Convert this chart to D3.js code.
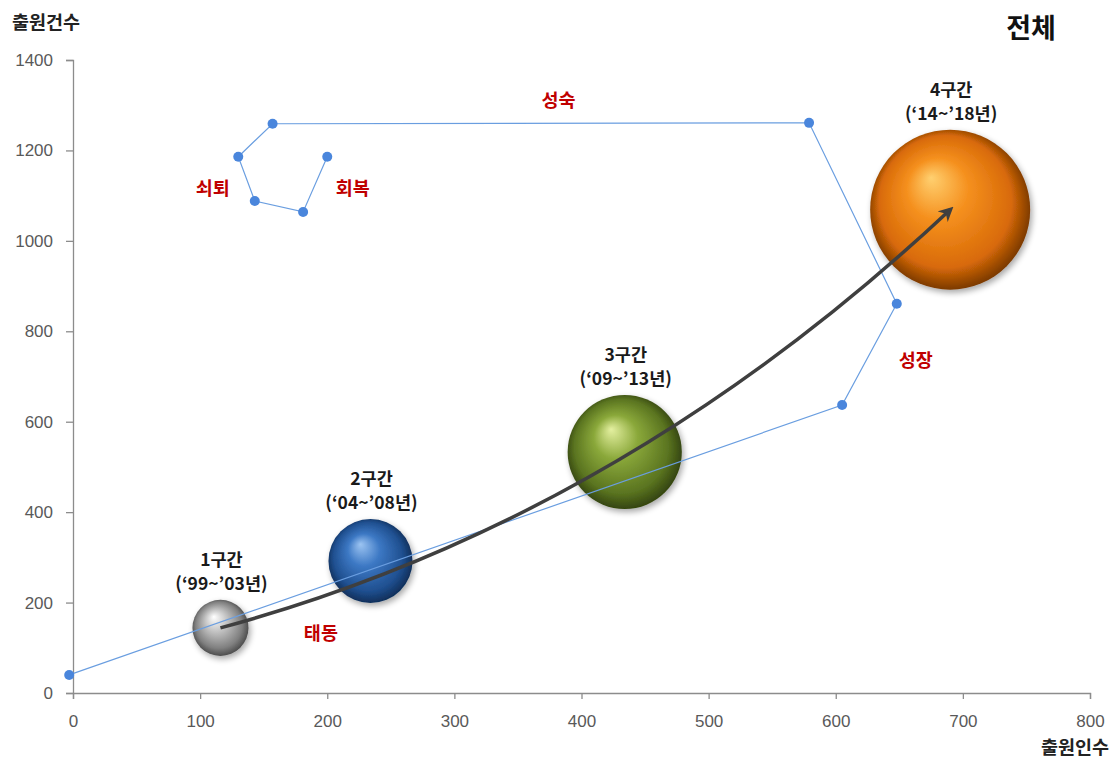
<!DOCTYPE html>
<html><head><meta charset="utf-8">
<script src="https://cdn.jsdelivr.net/npm/d3@7"></script>
<style>
html,body{margin:0;padding:0;background:#fff;}
svg{display:block;}
</style></head>
<body>
<svg id="chart" width="1119" height="761"></svg>
<script>
// ---- data ----
const xTicks = [0,100,200,300,400,500,600,700,800];
const yTicks = [0,200,400,600,800,1000,1200,1400];
// phase path (blue line): applicants, applications
const pathX = [-3, 605, 648, 579, 157, 130, 143, 181, 200];
const pathY = [40, 637, 861, 1261, 1259, 1186, 1088, 1064, 1186];
// bubbles (periods)
const periodNames = ["1구간","2구간","3구간","4구간"];
const periodYears = ["(‘99~’03년)","(‘04~’08년)","(‘09~’13년)","(‘14~’18년)"];
const bubbleX = [116, 234, 434, 690];
const bubbleY = [144, 292, 533, 1069];
const bubbleSize = [100, 225, 415, 815];
// stage labels
const stageNames = ["태동","쇠퇴","회복","성숙","성장"];
const stageX = [195, 110, 220, 382, 663];
const stageY = [130, 1115, 1115, 1310, 735];
// trend arrow (start, control, end)
const arrowX = [116, 430, 690];
const arrowY = [144, 383, 1069];

const svg = d3.select("#chart");
const x = d3.scaleLinear().domain([0,800]).range([73,1090]);
const y = d3.scaleLinear().domain([0,1400]).range([693,60]);
const r = d3.scaleSqrt().domain([0,815]).range([0,80]);

const defs = svg.append("defs");
const palettes = [
  ["#ffffff","#c4c4c4","#808080","#3a3a3a"],
  ["#9cc4f2","#3c78c4","#1f4f8f","#0a2346"],
  ["#e4f0a0","#8aa83a","#5a7420","#26330a"],
  ["#ffd070","#f5901e","#d86a08","#5a2800"]
];
palettes.forEach((p,i)=>{
  const g = defs.append("radialGradient").attr("id","sph"+i)
    .attr("cx","0.5").attr("cy","0.5").attr("r","0.55")
    .attr("fx","0.38").attr("fy","0.3");
  g.append("stop").attr("offset","0%").attr("stop-color",p[0]);
  g.append("stop").attr("offset","35%").attr("stop-color",p[1]);
  g.append("stop").attr("offset","75%").attr("stop-color",p[2]);
  g.append("stop").attr("offset","100%").attr("stop-color",p[3]);
});
const sh = defs.append("filter").attr("id","shadow").attr("x","-30%").attr("y","-30%").attr("width","160%").attr("height","160%");
sh.append("feGaussianBlur").attr("in","SourceAlpha").attr("stdDeviation",3);
sh.append("feOffset").attr("dx",2).attr("dy",3).attr("result","ob");
sh.append("feComponentTransfer").append("feFuncA").attr("type","linear").attr("slope",0.35);
const mg = sh.append("feMerge"); mg.append("feMergeNode"); mg.append("feMergeNode").attr("in","SourceGraphic");

defs.append("marker").attr("id","ah").attr("viewBox","0 0 10 10").attr("refX",7).attr("refY",5)
  .attr("markerWidth",4.2).attr("markerHeight",4.2).attr("orient","auto")
  .append("path").attr("d","M0,0 L10,5 L0,10 L3,5 Z").attr("fill","#3f3f3f");

// axes
const axisColor = "#8c8c8c";
const xa = svg.append("g").attr("transform","translate(0,693)")
  .call(d3.axisBottom(x).tickValues(xTicks).tickFormat(d3.format("d")).tickSize(6).tickPadding(16));
const ya = svg.append("g").attr("transform","translate(73,0)")
  .call(d3.axisLeft(y).tickValues(yTicks).tickFormat(d3.format("d")).tickSize(7).tickPadding(13));
[xa,ya].forEach(a=>{
  a.select(".domain").attr("stroke",axisColor).attr("stroke-width",1.3);
  a.selectAll(".tick line").attr("stroke",axisColor).attr("stroke-width",1.3);
  a.selectAll(".tick text").attr("fill","#595959").attr("font-size",17)
   .attr("font-family","'Liberation Sans', Arial, sans-serif");
});

// bubbles
svg.append("g").selectAll("circle").data(bubbleX).join("circle")
  .attr("cx",(d,i)=>x(bubbleX[i])).attr("cy",(d,i)=>y(bubbleY[i]))
  .attr("r",(d,i)=>r(bubbleSize[i]))
  .attr("fill",(d,i)=>`url(#sph${i})`).attr("filter","url(#shadow)");

// blue line
const pts = pathX.map((d,i)=>[x(d), y(pathY[i])]);
svg.append("path").attr("d", d3.line()(pts)).attr("fill","none")
  .attr("stroke","#6a9ee0").attr("stroke-width",1.2);
svg.append("g").selectAll("circle").data(pts).join("circle")
  .attr("cx",d=>d[0]).attr("cy",d=>d[1]).attr("r",5).attr("fill","#4a86dc");

// arrow
const ap = d3.path();
ap.moveTo(x(arrowX[0]), y(arrowY[0]));
ap.quadraticCurveTo(x(arrowX[1]), y(arrowY[1]), x(arrowX[2]), y(arrowY[2]));
svg.append("path").attr("d", ap.toString()).attr("fill","none")
  .attr("stroke","#3f3f3f").attr("stroke-width",3.5).attr("marker-end","url(#ah)");

// period labels
const kfont = "'Noto Sans CJK KR', 'Noto Sans', sans-serif";
const lab = svg.append("g").attr("font-family",kfont).attr("font-weight","bold")
  .attr("font-size",17.5).attr("fill","#1a1a1a").attr("text-anchor","middle");
periodNames.forEach((n,i)=>{
  const cx = x(bubbleX[i]), top = y(bubbleY[i]) - r(bubbleSize[i]);
  lab.append("text").attr("x",cx+1).attr("y",top-34).text(n);
  lab.append("text").attr("x",cx+1).attr("y",top-10).text(periodYears[i]);
});

// stage labels
svg.append("g").attr("font-family",kfont).attr("font-weight","bold").attr("font-size",18.5)
  .attr("fill","#c00000").attr("text-anchor","middle")
  .selectAll("text").data(stageNames).join("text")
  .attr("x",(d,i)=>x(stageX[i])).attr("y",(d,i)=>y(stageY[i])+6).text(d=>d);

// titles
svg.append("text").attr("x",1031).attr("y",38).attr("text-anchor","middle")
  .attr("font-family",kfont).attr("font-weight","bold").attr("font-size",27).attr("fill","#111").text("전체");
svg.append("text").attr("x",12).attr("y",29)
  .attr("font-family",kfont).attr("font-weight","bold").attr("font-size",18.5).attr("fill","#222").text("출원건수");
svg.append("text").attr("x",1109).attr("y",754).attr("text-anchor","end")
  .attr("font-family",kfont).attr("font-weight","bold").attr("font-size",18.5).attr("fill","#222").text("출원인수");
</script>
</body></html>
